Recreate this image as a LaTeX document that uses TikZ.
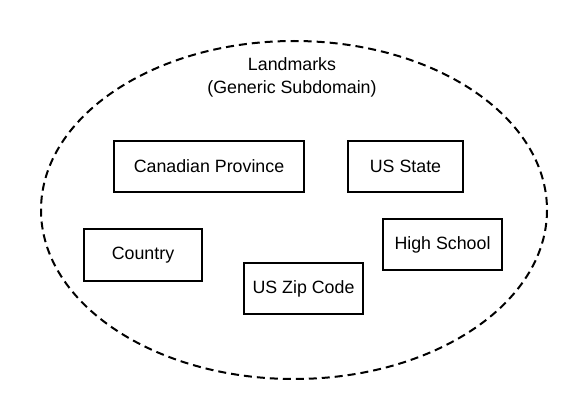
\documentclass[tikz,border=0pt]{standalone}
\usepackage{fontspec}
\setmainfont{Liberation Sans}
\begin{document}
\begin{tikzpicture}[x=1pt,y=-1pt,
  every node/.style={font=\fontsize{17.8}{23}\selectfont},
  box/.style={draw, line width=2pt, inner sep=0pt, minimum height=51pt},
  subdomainline/.style={draw, dash pattern=on 8pt off 5pt, line width=2pt}]
\useasboundingbox (0,0) rectangle (586,420);
\draw[subdomainline] (294,210) ellipse [x radius=253, y radius=169];
\node[align=center] (title) at (292,77) {Landmarks\\(Generic Subdomain)};
\node[box, minimum width=190pt] (canada) at (209,166.5) {Canadian Province};
\node[box, minimum width=115pt] (usstate) at (405.5,166.5) {US State};
\node[box, minimum width=119pt] (school) at (442.5,244.5) {High School};
\node[box, minimum width=118pt, minimum height=52pt] (country) at (143,255) {Country};
\node[box, minimum width=119pt] (zip) at (303.5,288.5) {US Zip Code};
\end{tikzpicture}
\end{document}
